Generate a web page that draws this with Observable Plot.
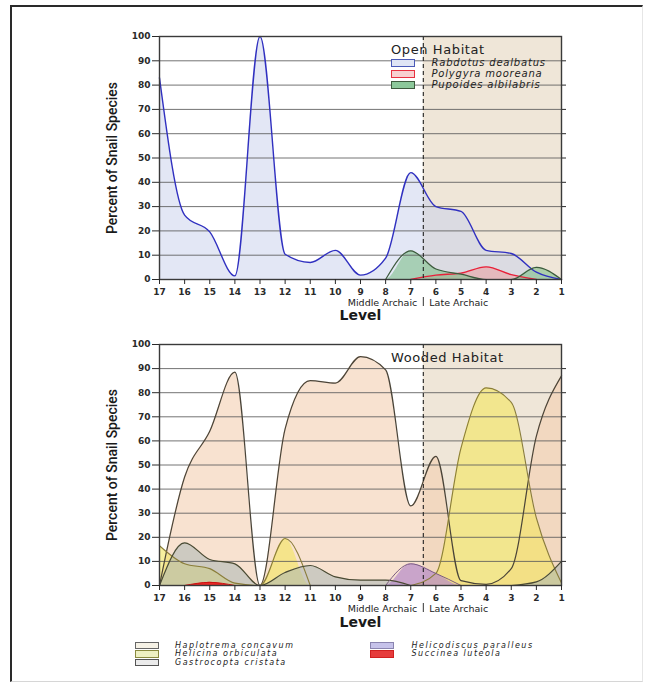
<!DOCTYPE html>
<html><head><meta charset="utf-8">
<script src="https://cdn.jsdelivr.net/npm/d3@7"></script>
<script src="https://cdn.jsdelivr.net/npm/@observablehq/plot@0.6"></script>
<style>
body{margin:0;background:#fff;}
#wrap{position:relative;width:652px;height:685px;overflow:hidden;background:#fff;font-family:"DejaVu Sans",sans-serif;}
#frame{position:absolute;left:10px;top:5px;width:633px;height:677px;border-left:2.5px solid #2a2a2a;border-top:2.5px solid #2a2a2a;border-right:1px solid #e6e6e6;border-bottom:1.5px solid #d6d6d6;box-sizing:border-box;}
.chart{position:absolute;left:0;}
.lg{position:absolute;font-size:10px;font-style:italic;letter-spacing:0.8px;color:#222;white-space:nowrap;line-height:10px;}
.lg2{position:absolute;font-size:8px;font-style:italic;letter-spacing:1.5px;color:#222;white-space:nowrap;line-height:8px;height:8px;}
.ttl{position:absolute;font-size:13px;letter-spacing:0.6px;color:#222;white-space:nowrap;line-height:13px;}
.box{position:absolute;width:24px;height:8px;box-sizing:border-box;border:1.3px solid;}
</style></head>
<body>
<div id="wrap"><div id="frame"></div></div>
<script>
// ---------- data ----------
const levels = [17,16,15,14,13,12,11,10,9,8,7,6,5,4,3,2,1];
const yTicks = [0,10,20,30,40,50,60,70,80,90,100];
const periodBoundary = 6.5;
const periods = [{name:"Middle Archaic", from:17, to:6.5},{name:"Late Archaic", from:6.5, to:1}];

// Open habitat (top)
const openNames = ["Rabdotus dealbatus","Polygyra mooreana","Pupoides albilabris"];
const rabdotus = [83,26.5,19.6,1.5,100,10.4,7,12,1.8,8.8,44,30,28,12,10.7,3,0];
const polygyra = [null,null,null,null,null,null,null,null,null,null,0,1.8,2.6,5.2,2,0,null];
const pupoides = [null,null,null,null,null,null,null,null,null,0,11.8,4.3,2.2,0,0,5,0];

// Wooded habitat (bottom)
const woodNames = ["Haplotrema concavum","Helicina orbiculata","Gastrocopta cristata","Helicodiscus paralleus","Succinea luteola"];
const haplotrema = [0,45,64,88.5,0,65,85,84,95,89.5,33,53.6,2,0.5,7,62,87];
const helicina = [16.5,9,7,1,0,19.5,0,null,null,null,0,5,57,82,76,28,1];
const gastrocopta = [0,17.7,10.8,9,0,5.4,8.3,3.6,2.2,2.2,0,null,null,null,0,1.5,10];
const helicodiscus = [null,null,null,null,null,null,null,null,null,0,9,5,0,null,null,null,null];
const succinea = [null,0,1.3,0,null,null,null,null,null,null,null,null,null,null,null,null,null];

// ---------- styles ----------
const openStyle = [
  {fill:"#c8d0ec", op:0.5, stroke:"#3030c0", sw:1.4, box:"#dfe5f5", boxStroke:"#4a5ab8"},
  {fill:"#f09090", op:0.45, stroke:"#e8203a", sw:1.4, box:"#f8d0d0", boxStroke:"#e83040"},
  {fill:"#7fbf8a", op:0.6, stroke:"#3d5a3d", sw:1.2, box:"#8cc89a", boxStroke:"#3d5a3d"}
];
const woodStyle = [
  {fill:"#f4cfb0", op:0.6, stroke:"#4a4438", sw:1.2, box:"#f6f2e6", boxStroke:"#666"},
  {fill:"#f3e65e", op:0.6, stroke:"#8a7d3a", sw:1.1, box:"#eef0c2", boxStroke:"#8a8a40"},
  {fill:"#a9b7b5", op:0.55, stroke:"#4a4a32", sw:1.2, box:"#ebebeb", boxStroke:"#555"},
  {fill:"#b58ac8", op:0.7, stroke:"#7a5a82", sw:1.0, box:"#c6c2ea", boxStroke:"#8a84b0"},
  {fill:"#e82020", op:0.95, stroke:"#cc1010", sw:1.0, box:"#e63c3c", boxStroke:"#d02020"}
];

function rows(values){ return levels.map((l,i)=>({level:l, v:values[i]})); }

function chart(seriesList, styles, opts){
  const marks = [
    Plot.rect(periods.filter(p=>p.name==="Late Archaic"), {x1:"from", x2:"to", fill:"#efe6d8"})
  ];
  seriesList.forEach((s,i)=>{
    marks.push(Plot.areaY(rows(s), {x:"level", y:"v", curve:"monotone-x", fill:styles[i].fill, fillOpacity:styles[i].op}));
  });
  marks.push(Plot.ruleY(yTicks.slice(1,-1), {stroke:"#5c5c5c", strokeWidth:1, strokeOpacity:0.85}));
  seriesList.forEach((s,i)=>{
    marks.push(Plot.lineY(rows(s), {x:"level", y:"v", curve:"monotone-x", stroke:styles[i].stroke, strokeWidth:styles[i].sw}));
  });
  marks.push(
    Plot.ruleX([periodBoundary], {stroke:"#222", strokeWidth:1.1, strokeDasharray:"4,3"}),
    Plot.ruleX([periodBoundary], {y1:0, y2:0, insetTop:18, insetBottom:-27, stroke:"#333", strokeWidth:1}),
    Plot.frame({stroke:"#3a3a3a", strokeWidth:1.4}),
    Plot.axisY({anchor:"left", ticks:yTicks, tickSize:7, tickPadding:2, fontWeight:"bold", fontSize:9, label:null}),
    Plot.axisY({anchor:"right", ticks:yTicks.slice(1,-1), tickSize:4, tickFormat:()=>"", label:null}),
    Plot.axisX({anchor:"bottom", ticks:levels, tickSize:5, tickPadding:4, fontWeight:"bold", fontSize:9, label:null}),
    Plot.text([periods[0].name], {x:periodBoundary, frameAnchor:"bottom", lineAnchor:"middle", dy:23, dx:-6, textAnchor:"end", fontSize:9.5, fill:"#222"}),
    Plot.text([periods[1].name], {x:periodBoundary, frameAnchor:"bottom", lineAnchor:"middle", dy:23, dx:6, textAnchor:"start", fontSize:9.5, fill:"#222"}),
    Plot.text(["Level"], {frameAnchor:"bottom", lineAnchor:"middle", dy:opts.levelDy, fontSize:14, fontWeight:"bold", fill:"#1a1a1a"}),
    Plot.text(["Percent of Snail Species"], {frameAnchor:"left", textAnchor:"middle", lineAnchor:"middle", rotate:-90, dx:-47, fontSize:14, fontFamily:"Roboto, sans-serif", fontWeight:500, fill:"#1a1a1a"})
  );
  return Plot.plot({
    width:652, height:opts.height,
    marginLeft:159, marginRight:91, marginTop:opts.marginTop, marginBottom:opts.marginBottom,
    x:{domain:[17,1], axis:null},
    y:{domain:[0,100], axis:null},
    style:{fontFamily:"DejaVu Sans, sans-serif", fontSize:"9px", color:"#2a2a2a", background:"transparent", overflow:"visible"},
    marks
  });
}

const wrap = document.getElementById("wrap");
const top1 = chart([rabdotus, polygyra, pupoides], openStyle, {height:330, marginTop:36, marginBottom:51, levelDy:36});
top1.classList.add("chart"); top1.style.top = "0px";
wrap.appendChild(top1);
const bot1 = chart([haplotrema, helicina, gastrocopta, helicodiscus, succinea], woodStyle, {height:300, marginTop:14, marginBottom:45, levelDy:37});
bot1.classList.add("chart"); bot1.style.top = "330px";
wrap.appendChild(bot1);

function addDiv(cls, left, top, text, extra){
  const d = document.createElement("div");
  d.className = cls; d.style.left = left+"px"; d.style.top = top+"px";
  if (text) d.textContent = text;
  if (extra) Object.assign(d.style, extra);
  wrap.appendChild(d); return d;
}
// Open habitat legend
addDiv("ttl", 391, 43, "Open Habitat");
openNames.forEach((n,i)=>{
  const cy = 63.3 + i*10.8;
  addDiv("box", 391, cy-4, "", {background:openStyle[i].box, borderColor:openStyle[i].boxStroke});
  addDiv("lg", 431.5, cy-5, n);
});
// Wooded habitat title
addDiv("ttl", 391, 350.5, "Wooded Habitat");
// Wooded legend (bottom)
woodNames.forEach((n,i)=>{
  const col = i<3 ? 0 : 1;
  const r = i<3 ? i : i-3;
  const cy = 645.5 + r*8.5;
  const bx = col===0 ? 134.5 : 369.5;
  const tx = col===0 ? 175 : 411.5;
  addDiv("box", bx, cy-3.7, "", {height:"7.5px", background:woodStyle[i].box, borderColor:woodStyle[i].boxStroke});
  addDiv("lg2", tx, cy-4, n);
});
</script>
</body></html>
